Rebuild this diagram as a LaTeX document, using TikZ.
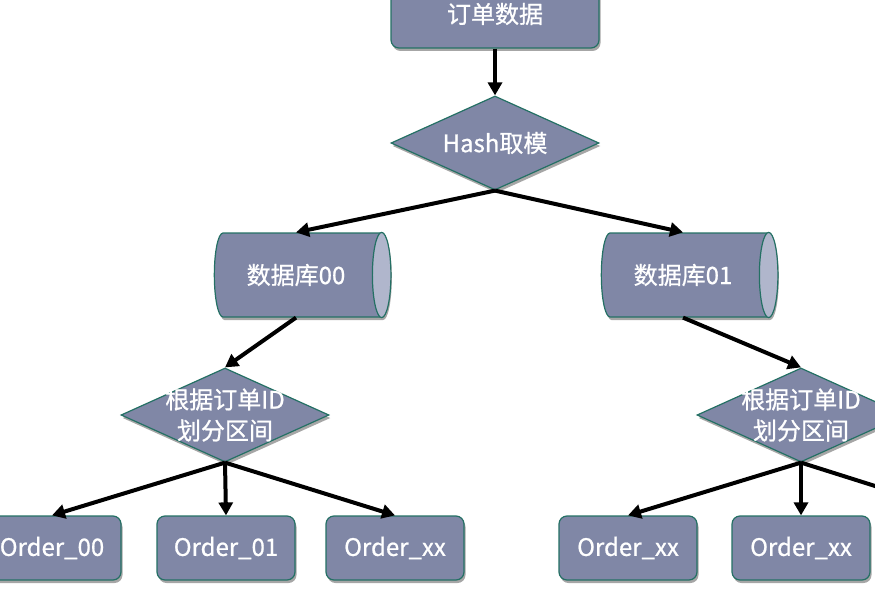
\documentclass[tikz,border=0pt]{standalone}
\usepackage{fontspec}
\newfontfamily\cjk[FakeBold=0.8]{Noto Sans CJK SC}
\usetikzlibrary{shapes.geometric,shadows,arrows.meta,calc}
\definecolor{boxfill}{RGB}{128,135,166}
\definecolor{boxline}{RGB}{36,112,100}
\definecolor{capfill}{RGB}{176,182,204}
\begin{document}
\begin{tikzpicture}[x=1pt,y=-1pt,
  every node/.style={font=\cjk\fontsize{24}{31}\selectfont,text=white},
  lift/.style={drop shadow={shadow xshift=1.5pt,shadow yshift=-3pt,opacity=0.35,fill=black}},
  order/.style={draw=boxline,fill=boxfill,line width=1.2pt,rounded corners=8pt,minimum width=138pt,minimum height=64pt,lift},
  choice/.style={diamond,draw=boxline,fill=boxfill,line width=1.2pt,aspect=2.2,inner sep=-12pt,minimum width=208pt,minimum height=94pt,align=center,lift},
  db/.style={cylinder,draw=boxline,fill=boxfill,line width=1.2pt,shape aspect=0.6,minimum height=176pt,minimum width=84pt,lift},
  link/.style={line width=4pt,-{Triangle[length=13pt,width=14pt]}}]
  \useasboundingbox (0,0) rectangle (875,602);
  \clip (0,0) rectangle (875,602);
  % source and hash
  \node[order,minimum width=208pt,minimum height=68pt] (src) at (495,14) {订单数据};
  \node[choice] (hash) at (495,143) {Hash取模};
  % databases
  \node[db] (db0) at (296,275) {数据库00};
  \node[db] (db1) at (683,275) {数据库01};
  \foreach \dbname in {db0,db1}
    \filldraw[capfill,draw=boxline,line width=1.2pt]
      let \p1=(\dbname.top), \p2=(\dbname.before top), \p3=(\dbname.after top) in
      (\x2,{(\y2+\y3)/2}) ellipse ({\x1-\x2} and {abs(\y3-\y2)/2});
  % range split
  \node[choice] (split0) at (225,415) {根据订单ID\\划分区间};
  \node[choice] (split1) at (801,415) {根据订单ID\\划分区间};
  % tables
  \node[order] (o00) at (52,548) {Order\_00};
  \node[order] (o01) at (226,548) {Order\_01};
  \node[order] (o0x) at (395,548) {Order\_xx};
  \node[order] (o10) at (628,548) {Order\_xx};
  \node[order] (o11) at (801,548) {Order\_xx};
  \coordinate (o12) at (970,516);
  % arrows
  \draw[link] (src) -- (hash);
  \draw[link] (hash.south) -- (db0.north);
  \draw[link] (hash.south) -- (db1.north);
  \draw[link] (db0.south) -- (split0.north);
  \draw[link] (db1.south) -- (split1.north);
  \draw[link] (split0.south) -- (o00.north);
  \draw[link] (split0.south) -- (o01.north);
  \draw[link] (split0.south) -- (o0x.north);
  \draw[link] (split1.south) -- (o10.north);
  \draw[link] (split1.south) -- (o11.north);
  \draw[link] (split1.south) -- (o12);
\end{tikzpicture}
\end{document}
